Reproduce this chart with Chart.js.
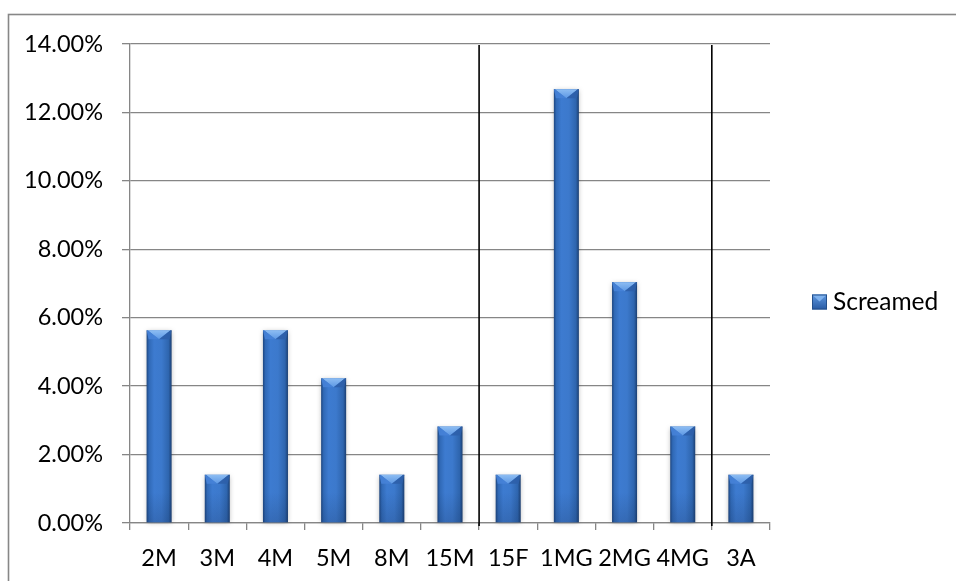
<!DOCTYPE html>
<html>
<head>
<meta charset="utf-8">
<script src="https://cdn.jsdelivr.net/npm/chart.js@4.4.1/dist/chart.umd.min.js"></script>
<style>
  html, body { margin: 0; padding: 0; background: #ffffff; }
  #wrap { width: 956px; height: 581px; position: relative; }
</style>
</head>
<body>
<div id="wrap"><canvas id="c" width="956" height="581"></canvas></div>
<script>
// Share of respondents who screamed, per group
const categories = ['2M', '3M', '4M', '5M', '8M', '15M', '15F', '1MG', '2MG', '4MG', '3A'];
const screamed = [0.0563, 0.0141, 0.0563, 0.0423, 0.0141, 0.0282, 0.0141, 0.1268, 0.0704, 0.0282, 0.0141];
const seriesName = 'Screamed';
// Groups after which a divider is drawn
const dividerAfter = ['15M', '4MG'];

const FONT = 'Lato, "Open Sans", sans-serif';
const GRID = '#868686';

// Outer frame of the chart object
const framePlugin = {
  id: 'frame',
  beforeDraw(chart) {
    const ctx = chart.ctx;
    ctx.save();
    ctx.fillStyle = '#ffffff';
    ctx.fillRect(0, 0, chart.width, chart.height);
    ctx.strokeStyle = '#878787';
    ctx.lineWidth = 1.6;
    ctx.strokeRect(8.5, 14.5, 1200, 800);
    ctx.restore();
  }
};

// Shaded cylinder-like bars with a bevelled top
const barStylePlugin = {
  id: 'barStyle',
  afterDatasetsDraw(chart) {
    const ctx = chart.ctx;
    const meta = chart.getDatasetMeta(0);
    meta.data.forEach(bar => {
      const w = bar.width;
      const l = bar.x - w / 2, r = bar.x + w / 2;
      const top = bar.y, base = bar.base;
      ctx.save();
      // soft shadow
      ctx.shadowColor = 'rgba(0,0,0,0.28)';
      ctx.shadowBlur = 5;
      ctx.shadowOffsetX = 0;
      ctx.shadowOffsetY = 1;
      const g = ctx.createLinearGradient(l, 0, r, 0);
      g.addColorStop(0, '#1d4680');
      g.addColorStop(0.1, '#3069b6');
      g.addColorStop(0.3, '#3d7bd0');
      g.addColorStop(0.6, '#3c79cc');
      g.addColorStop(0.88, '#2e65ae');
      g.addColorStop(1, '#1b3f72');
      ctx.fillStyle = g;
      ctx.fillRect(l, top, w, base - top);
      ctx.restore();

      // darker foot of the bar
      ctx.save();
      const gv = ctx.createLinearGradient(0, base - 30, 0, base);
      gv.addColorStop(0, 'rgba(20,40,80,0)');
      gv.addColorStop(1, 'rgba(20,40,80,0.2)');
      ctx.fillStyle = gv;
      ctx.fillRect(l, Math.max(top, base - 30), w, Math.min(30, base - top));

      // bevelled top
      const bev = Math.min(9, (base - top) / 2);
      ctx.beginPath();
      ctx.moveTo(l + 1, top);
      ctx.lineTo(r - 1, top);
      ctx.lineTo(bar.x, top + bev);
      ctx.closePath();
      const gt = ctx.createLinearGradient(0, top, 0, top + bev);
      gt.addColorStop(0, '#8dbdf3');
      gt.addColorStop(1, '#5d98e4');
      ctx.fillStyle = gt;
      ctx.fill();
      // side chamfers of the top
      ctx.fillStyle = 'rgba(70,130,215,0.9)';
      ctx.beginPath();
      ctx.moveTo(l, top);
      ctx.lineTo(l + 1, top);
      ctx.lineTo(bar.x, top + bev);
      ctx.lineTo(l + 2, top + bev);
      ctx.closePath();
      ctx.fill();
      ctx.beginPath();
      ctx.moveTo(r, top);
      ctx.lineTo(r - 1, top);
      ctx.lineTo(bar.x, top + bev);
      ctx.lineTo(r - 2, top + bev);
      ctx.closePath();
      ctx.fillStyle = 'rgba(45,95,170,0.9)';
      ctx.fill();
      ctx.restore();
    });
  }
};

// Vertical dividers between group families
const dividerPlugin = {
  id: 'dividers',
  afterDatasetsDraw(chart) {
    const ctx = chart.ctx;
    const xs = chart.scales.x;
    const area = chart.chartArea;
    ctx.save();
    ctx.strokeStyle = '#000000';
    ctx.lineWidth = 1.6;
    dividerAfter.forEach(name => {
      const i = categories.indexOf(name);
      const x = (xs.getPixelForValue(i) + xs.getPixelForValue(i + 1)) / 2;
      ctx.beginPath();
      ctx.moveTo(x, area.top + 1);
      ctx.lineTo(x, area.bottom + 3);
      ctx.stroke();
    });
    ctx.restore();
  }
};

// Legend entry on the right
const legendPlugin = {
  id: 'sideLegend',
  afterDraw(chart) {
    const ctx = chart.ctx;
    const area = chart.chartArea;
    const cy = (area.top + area.bottom) / 2 + 18;
    const x0 = area.right + 42;
    ctx.save();
    const g = ctx.createLinearGradient(0, cy - 7, 0, cy + 7);
    g.addColorStop(0, '#5f98e0');
    g.addColorStop(1, '#2c5fa8');
    ctx.fillStyle = g;
    ctx.fillRect(x0, cy - 7, 15, 15);
    ctx.fillStyle = '#7fb2ee';
    ctx.beginPath();
    ctx.moveTo(x0, cy - 7);
    ctx.lineTo(x0 + 15, cy - 7);
    ctx.lineTo(x0 + 7.5, cy);
    ctx.closePath();
    ctx.fill();
    ctx.strokeStyle = '#24508c';
    ctx.lineWidth = 1;
    ctx.strokeRect(x0 + 0.5, cy - 6.5, 14, 14);
    ctx.fillStyle = '#000000';
    ctx.font = '24.5px ' + FONT;
    ctx.textBaseline = 'middle';
    ctx.textAlign = 'left';
    ctx.fillText(chart.data.datasets[0].label, x0 + 21, cy + 1);
    ctx.restore();
  }
};

new Chart(document.getElementById('c'), {
  type: 'bar',
  data: {
    labels: categories,
    datasets: [{
      label: seriesName,
      data: screamed,
      backgroundColor: 'rgba(0,0,0,0)',
      borderWidth: 0,
      barPercentage: 0.43,
      categoryPercentage: 1.0
    }]
  },
  options: {
    responsive: false,
    animation: false,
    devicePixelRatio: 1,
    layout: { padding: { top: 44, right: 186, bottom: 0, left: 0 } },
    plugins: {
      legend: { display: false },
      tooltip: { enabled: false }
    },
    scales: {
      x: {
        grid: {
          display: true,
          offset: true,
          drawOnChartArea: false,
          drawTicks: true,
          tickLength: 7,
          color: GRID,
          lineWidth: 1.3
        },
        border: { display: true, color: GRID, width: 1.3 },
        ticks: {
          color: '#000000',
          font: { family: FONT, size: 23.5 },
          padding: 14,
          maxRotation: 0,
          autoSkip: false
        },
        afterFit(scale) { scale.height = 58; }
      },
      y: {
        min: 0,
        max: 0.14,
        grid: {
          color: GRID,
          lineWidth: 1.3,
          tickLength: 8,
          drawTicks: true
        },
        border: { display: true, color: GRID, width: 1.3 },
        ticks: {
          stepSize: 0.02,
          color: '#000000',
          font: { family: FONT, size: 23.5 },
          padding: 19,
          callback: v => (v * 100).toFixed(2) + '%'
        },
        afterFit(scale) { scale.width = 130; }
      }
    }
  },
  plugins: [framePlugin, barStylePlugin, dividerPlugin, legendPlugin]
});
</script>
</body>
</html>
